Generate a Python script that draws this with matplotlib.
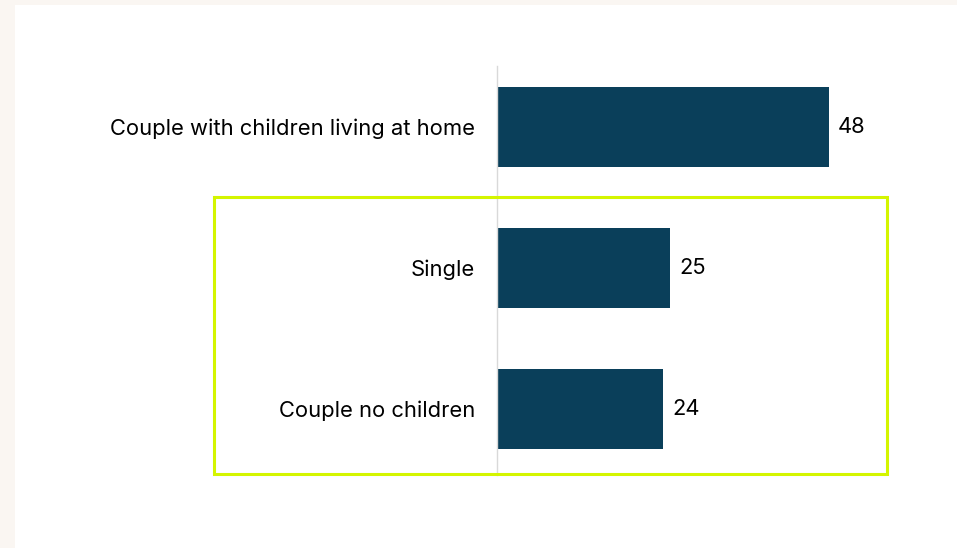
import matplotlib
matplotlib.use("Agg")
import matplotlib.pyplot as plt
from matplotlib.patches import Rectangle

categories = ["Couple with children living at home", "Single", "Couple no children"]
values = [48, 25, 24]

BAR = "#0a3f5a"
GREEN = "#d4f500"
BG = "#faf6f2"

plt.rcParams['font.family'] = ['Inter', 'DejaVu Sans']

fig = plt.figure(figsize=(9.57, 5.48), dpi=100, facecolor=BG)
fig.patches.append(Rectangle((15/957, 0), 1 - 15/957, 1 - 5/548, transform=fig.transFigure,
                             facecolor="white", edgecolor="none", zorder=-1))

ax = fig.add_axes([497/957, (548-475)/548, 415/957, 409/548])
ax.set_facecolor("none")
pos = list(range(len(categories)))
ax.barh(pos, values, height=0.567, color=BAR)
ax.set_xlim(0, 60)
ax.set_ylim(2.468, -0.433)
for s in ["top", "right", "bottom"]:
    ax.spines[s].set_visible(False)
ax.spines["left"].set_color("#d9d9d9")
ax.spines["left"].set_linewidth(1)
ax.set_xticks([])
ax.set_yticks(pos)
ax.set_yticklabels(categories, fontsize=15.8, color="#000000")
ax.tick_params(axis="y", length=0, pad=15.8)
for p, v in zip(pos, values):
    ax.text(v + 1.3, p, str(v), va="center", ha="left", fontsize=15.8, color="#000000")

fig.patches.append(Rectangle((214/957, (548-474)/548), (887-214)/957, (474-197)/548,
                             transform=fig.transFigure, facecolor="none",
                             edgecolor=GREEN, linewidth=2.2, zorder=5))

fig.savefig("out.png", dpi=100, facecolor=BG)
